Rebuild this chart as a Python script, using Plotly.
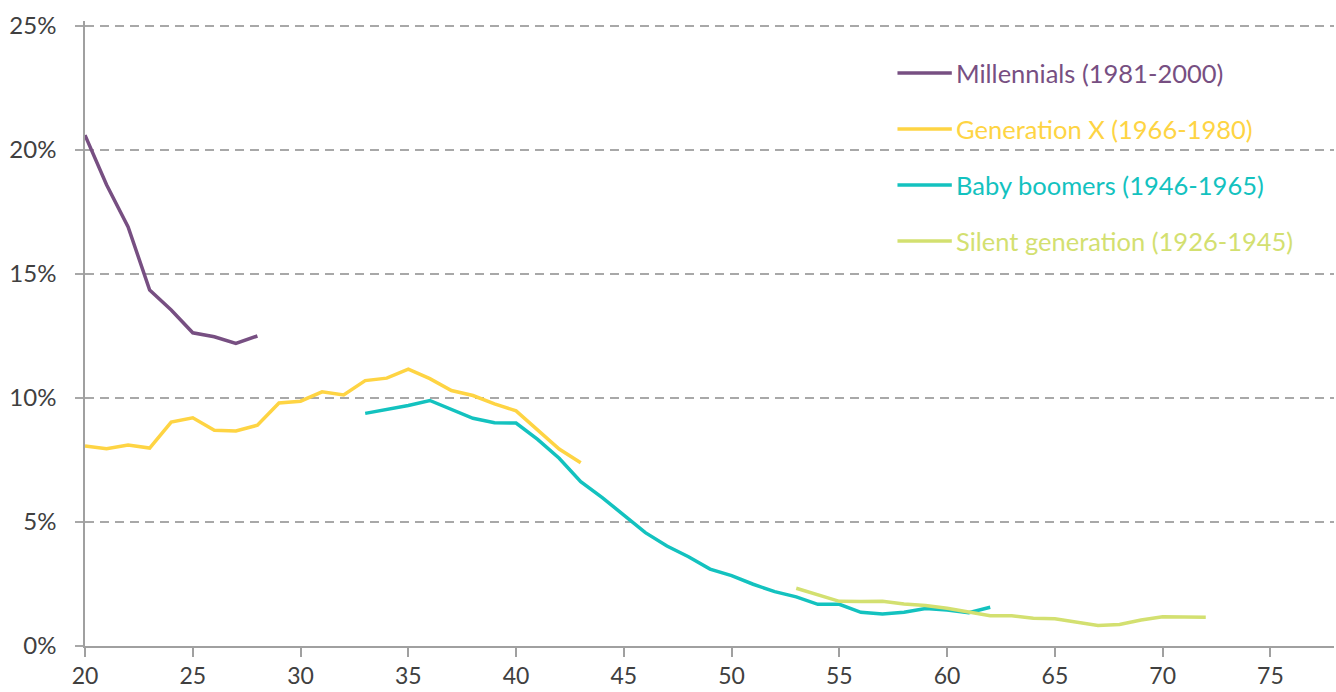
import plotly.graph_objects as go

# Share of each generation by age
millennials_age = list(range(20, 29))
millennials_val = [20.6, 18.6, 16.9, 14.35, 13.55, 12.63, 12.47, 12.2, 12.5]

genx_age = list(range(20, 44))
genx_val = [8.06, 7.95, 8.1, 7.98, 9.03, 9.2, 8.7, 8.67, 8.9, 9.8, 9.87, 10.25, 10.12,
            10.7, 10.8, 11.16, 10.78, 10.3, 10.1, 9.76, 9.48, 8.7, 7.94, 7.39]

boomers_age = list(range(33, 63))
boomers_val = [9.38, 9.54, 9.7, 9.9, 9.55, 9.18, 9.0, 8.99, 8.33, 7.57, 6.63, 5.98,
               5.28, 4.57, 4.03, 3.6, 3.1, 2.84, 2.49, 2.19, 1.98, 1.68, 1.68, 1.36,
               1.29, 1.36, 1.51, 1.45, 1.34, 1.56]

silent_age = list(range(53, 73))
silent_val = [2.33, 2.08, 1.8, 1.79, 1.8, 1.69, 1.63, 1.52, 1.38, 1.22, 1.22, 1.12,
              1.1, 0.98, 0.83, 0.87, 1.05, 1.18, 1.16, 1.16]

names = ["Millennials (1981-2000)", "Generation X (1966-1980)",
         "Baby boomers (1946-1965)", "Silent generation (1926-1945)"]
colors = ["#774F82", "#FED443", "#13C2BF", "#D3E070"]
series = [(millennials_age, millennials_val), (genx_age, genx_val),
          (boomers_age, boomers_val), (silent_age, silent_val)]

FONT = "Lato"
TEXT = "#404040"
AXIS = "#A0A0A0"

fig = go.Figure()
for (ages, vals), name, color in zip(series, names, colors):
    fig.add_trace(go.Scatter(
        x=ages, y=[v / 100 for v in vals], mode="lines", name=name,
        line=dict(color=color, width=3.5), showlegend=False,
    ))

# Hand-built legend: coloured line plus coloured label (paper coordinates)
legend_px = [73, 129, 185, 241]          # label centres, pixels from the top
plot_top, plot_h = 21, 625
for name, color, py in zip(names, colors, legend_px):
    ly = 1 - (py - plot_top) / plot_h
    fig.add_shape(type="line", xref="paper", yref="paper",
                  x0=0.6505, x1=0.694, y0=ly, y1=ly,
                  line=dict(color=color, width=3.5))
    fig.add_annotation(xref="paper", yref="paper", x=0.6955, y=ly,
                       xanchor="left", yanchor="middle", showarrow=False,
                       text=name, font=dict(family=FONT, size=25.5, color=color))

fig.update_layout(
    width=1336, height=692,
    margin=dict(l=85, r=2, t=plot_top, b=692 - plot_top - plot_h),
    paper_bgcolor="white", plot_bgcolor="white",
    font=dict(family=FONT, size=25, color=TEXT),
    xaxis=dict(
        range=[20, 77.95], tickvals=list(range(20, 80, 5)),
        showgrid=False, zeroline=False, automargin=False,
        showline=True, linecolor=AXIS, linewidth=1.5,
        ticks="outside", ticklen=9, tickcolor=AXIS, tickwidth=1.5,
        ticklabelstandoff=0,
        tickfont=dict(family=FONT, size=23, color=TEXT),
    ),
    yaxis=dict(
        range=[0, 0.252], tickvals=[0, 0.05, 0.10, 0.15, 0.20, 0.25],
        tickformat=".0%",
        showgrid=True, gridcolor="#A8A8A8", gridwidth=1.5, griddash="9px,6px",
        zeroline=False, automargin=False,
        showline=True, linecolor=AXIS, linewidth=1.5,
        ticks="outside", ticklen=8, tickcolor="#A8A8A8", tickwidth=1.5,
        ticklabelstandoff=14,
        tickfont=dict(family=FONT, size=24, color=TEXT),
    ),
)

fig.write_html("out.html")
